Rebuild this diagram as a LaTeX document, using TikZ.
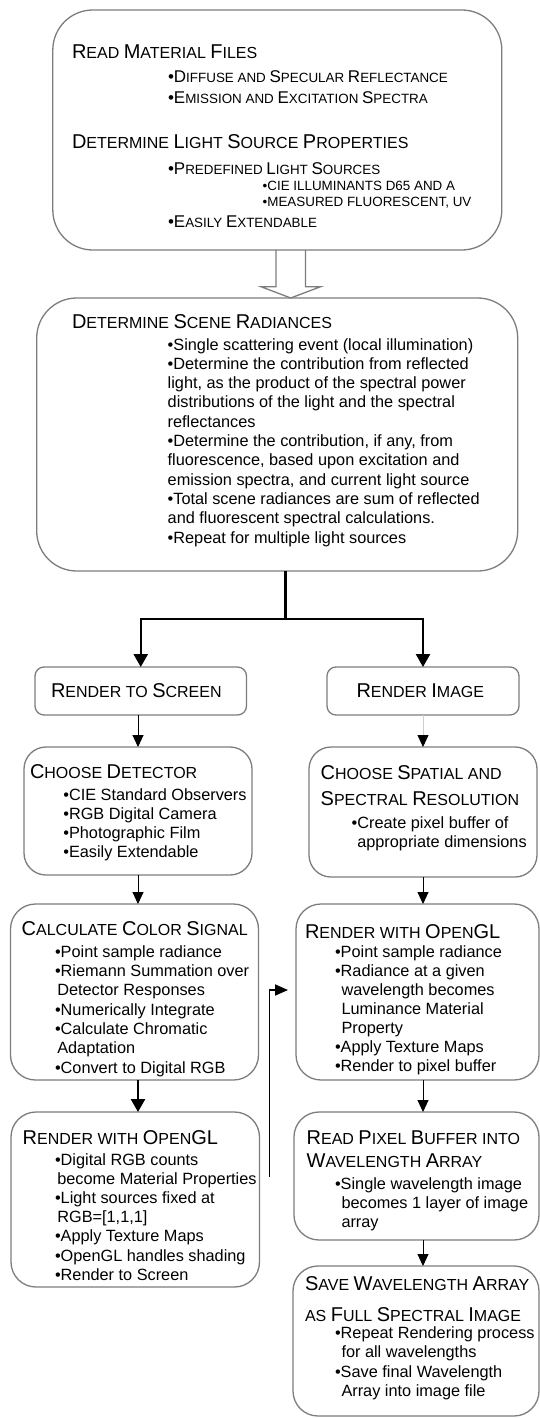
\documentclass[tikz,border=0pt]{standalone}
\usepackage{fontspec}
\setmainfont{Liberation Sans}
\usetikzlibrary{arrows.meta,calc}
\definecolor{bx}{RGB}{125,125,125}
\definecolor{lg}{RGB}{205,205,205}
\newcommand\capT[1]{{\fontsize{20}{20}\selectfont #1}}
\newcommand\capB[1]{{\fontsize{17}{17}\selectfont #1}}
\newcommand\stk[1]{\begin{tabular}[t]{@{}l@{}}#1\end{tabular}}
\newcommand\ia{\hspace*{2.3pt}}
\newcommand\ib{\hspace*{6.5pt}}
\tikzset{
  box/.style={draw=bx, line width=1.3pt, inner sep=0pt, outer sep=0pt},
  txt/.style={anchor=base west, inner sep=0pt, outer sep=0pt, text=black},
  ttl/.style={txt, font=\fontsize{16}{#1}\selectfont},
  ttl/.default=19,
  body/.style={txt, font=\fontsize{16.3}{#1}\selectfont},
  body/.default=19.3,
  tb/.style={txt, font=\fontsize{13.4}{#1}\selectfont},
  tb/.default=21.3,
  gar/.style={draw=bx, line width=1.3pt, line join=miter},
  thk/.style={draw=black, line width=2.5pt},
  thkarr/.style={thk, -{Triangle[length=13pt,width=14pt]}},
  thinarr/.style={draw=black, line width=0.9pt, -{Triangle[length=12pt,width=11pt]}},
  lgarr/.style={draw=lg, line width=0.8pt, -{Triangle[length=12pt,width=11pt,color=black]}},
  medarr/.style={draw=black, line width=1.8pt, -{Triangle[length=13pt,width=11pt]}},
}
\begin{document}
\begin{tikzpicture}[x=1pt,y=-1pt]
\useasboundingbox (0,0) rectangle (540,1418);
\fill[white] (0,0) rectangle (540,1418);

% ---------- boxes ----------
\node[box, minimum width=449pt, minimum height=240pt, rounded corners=40pt] (top) at (277.3,130) {};
\node[box, minimum width=481pt, minimum height=273pt, rounded corners=40pt] (mid) at (277.2,434.5) {};
\node[box, minimum width=211.5pt, minimum height=48pt, rounded corners=9pt] (rts) at (140.75,691) {};
\node[box, minimum width=192pt, minimum height=48pt, rounded corners=9pt] (ri) at (423,691) {};
\node[box, minimum width=228pt, minimum height=128pt, rounded corners=22pt] (cd) at (138,811) {};
\node[box, minimum width=228pt, minimum height=130pt, rounded corners=22pt] (css) at (423,812) {};
\node[box, minimum width=248pt, minimum height=176pt, rounded corners=25pt] (ccs) at (134.5,992) {};
\node[box, minimum width=248.5pt, minimum height=175pt, rounded corners=25pt] (rgl) at (135.25,1199.5) {};
\node[box, minimum width=243pt, minimum height=176pt, rounded corners=25pt] (rgr) at (417.5,992) {};
\node[box, minimum width=245pt, minimum height=128pt, rounded corners=25pt] (rpb) at (416.5,1176) {};
\node[box, minimum width=246pt, minimum height=150pt, rounded corners=25pt] (save) at (416,1341) {};

% ---------- texts: top box ----------
\node[ttl] (t1) at (72,59) {\capT{R}EAD \capT{M}ATERIAL \capT{F}ILES};
\node[tb] (t2) at (168,82.7) {\stk{\capB{\textbullet D}IFFUSE AND \capB{S}PECULAR \capB{R}EFLECTANCE\\
  \capB{\textbullet E}MISSION AND \capB{E}XCITATION \capB{S}PECTRA}};
\node[ttl] (t3) at (72,149) {\capT{D}ETERMINE \capT{L}IGHT \capT{S}OURCE \capT{P}ROPERTIES};
\node[tb] (t4) at (168,174) {\capB{\textbullet P}REDEFINED \capB{L}IGHT \capB{S}OURCES};
\node[tb=16] (t5) at (262.7,190) {\stk{\textbullet CIE ILLUMINANTS D65 AND A\\
  \textbullet MEASURED FLUORESCENT, UV}};
\node[tb] (t6) at (168,227) {\capB{\textbullet E}ASILY \capB{E}XTENDABLE};

% ---------- middle box ----------
\node[ttl] (t7) at (72,328) {\capT{D}ETERMINE \capT{S}CENE \capT{R}ADIANCES};
\node[body] (t8) at (167.7,350) {\stk{\textbullet Single scattering event (local illumination)\\
  \textbullet Determine the contribution from reflected\\
  light, as the product of the spectral power\\
  distributions of the light and the spectral\\
  reflectances\\
  \textbullet Determine the contribution, if any, from\\
  fluorescence, based upon excitation and\\
  emission spectra, and current light source\\
  \textbullet Total scene radiances are sum of reflected\\
  and fluorescent spectral calculations.\\
  \textbullet Repeat for multiple light sources}};

% ---------- render boxes ----------
\node[ttl] (t9) at (51,697) {\capT{R}ENDER TO \capT{S}CREEN};
\node[ttl] (t10) at (356.5,697) {\capT{R}ENDER \capT{I}MAGE};

% ---------- left column ----------
\node[ttl] (t11) at (30,778.5) {\capT{C}HOOSE \capT{D}ETECTOR};
\node[body] (t12) at (63.3,800) {\stk{\textbullet CIE Standard Observers\\
  \textbullet RGB Digital Camera\\
  \textbullet Photographic Film\\
  \textbullet Easily Extendable}};
\node[ttl] (t13) at (21.7,935.7) {\capT{C}ALCULATE \capT{C}OLOR \capT{S}IGNAL};
\node[body] (t14) at (55,957.3) {\stk{\textbullet Point sample radiance\\
  \textbullet Riemann Summation over\\
  \ia Detector Responses\\
  \textbullet Numerically Integrate\\
  \textbullet Calculate Chromatic\\
  \ia Adaptation\\
  \textbullet Convert to Digital RGB}};
\node[ttl] (t15) at (22.7,1144) {\capT{R}ENDER WITH \capT{O}PEN\capT{GL}};
\node[body=19.2] (t16) at (55,1165) {\stk{\textbullet Digital RGB counts\\
  \ia become Material Properties\\
  \textbullet Light sources fixed at\\
  \ia RGB=[1,1,1]\\
  \textbullet Apply Texture Maps\\
  \textbullet OpenGL handles shading\\
  \textbullet Render to Screen}};

% ---------- right column ----------
\node[ttl=25.7] (t17) at (320.7,779.3) {\stk{\capT{C}HOOSE \capT{S}PATIAL AND\\
  \capT{S}PECTRAL \capT{R}ESOLUTION}};
\node[body=19] (t18) at (351.7,828.3) {\stk{\textbullet Create pixel buffer of\\
  \hspace*{5.6pt}appropriate dimensions}};
\node[ttl] (t19) at (305,938) {\capT{R}ENDER WITH \capT{O}PEN\capT{GL}};
\node[body=19] (t20) at (335,957.5) {\stk{\textbullet Point sample radiance\\
  \textbullet Radiance at a given\\
  \ib wavelength becomes\\
  \ib Luminance Material\\
  \ib Property\\
  \textbullet Apply Texture Maps\\
  \textbullet Render to pixel buffer}};
\node[ttl=23.3] (t21) at (306.7,1144) {\stk{\capT{R}EAD \capT{P}IXEL \capT{B}UFFER INTO\\
  \capT{W}AVELENGTH \capT{A}RRAY}};
\node[body] (t22) at (335,1189) {\stk{\textbullet Single wavelength image\\
  \ib becomes 1 layer of image\\
  \ib array}};
\node[ttl=31] (t23) at (305,1290) {\stk{\capT{S}AVE \capT{W}AVELENGTH \capT{A}RRAY\\
  AS \capT{F}ULL \capT{S}PECTRAL \capT{I}MAGE}};
\node[body=19.5] (t24) at (335,1338) {\stk{\textbullet Repeat Rendering process\\
  \ib for all wavelengths\\
  \textbullet Save final Wavelength\\
  \ib Array into image file}};

% ---------- connectors ----------
\coordinate (bt) at ($(top.south)+(13.4,0)$);
\draw[gar] ($(bt)+(-14.7,0)$) -- ++(0,36.7) -- ++(-15,0) -- (bt |- mid.north)
  -- ($(bt)+(29.9,36.7)$) -- ++(-15.2,0) -- ($(bt)+(14.7,0)$);

\coordinate (jn) at (285.5,619);
\draw[thk] (jn |- mid.south) -- (jn);
\draw[thkarr] (jn) -| (rts.north);
\draw[thkarr] (jn) -| (ri.north);

\draw[thinarr] (cd.north |- rts.south) -- (cd.north);
\draw[lgarr] (ri.south) -- (css.north);
\draw[thinarr] (cd.south) -- (cd.south |- ccs.north);
\draw[thkarr] (cd.south |- ccs.south) -- (cd.south |- rgl.north);
\draw[thinarr] (css.south) -- (css.south |- rgr.north);
\draw[thinarr] (css.south |- rgr.south) -- (css.south |- rpb.north);
\draw[thinarr] (css.south |- rpb.south) -- (css.south |- save.north);

\coordinate (fs) at (269.5,1177);
\coordinate (fe) at (288,990);
\draw[medarr] (fs) |- (fe);
\end{tikzpicture}
\end{document}
